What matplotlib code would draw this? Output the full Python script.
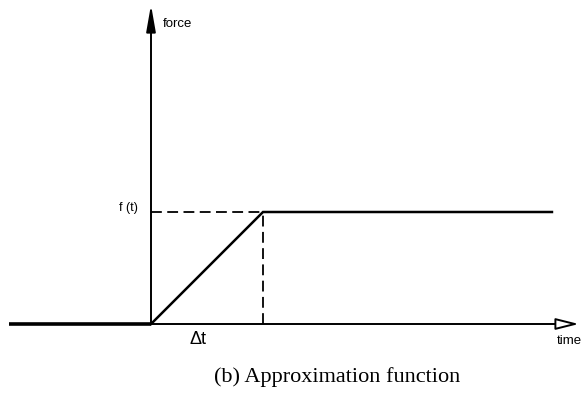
import matplotlib
matplotlib.use("Agg")
import matplotlib.pyplot as plt

# ステップ入力の近似関数（ランプ → 一定）
t_base = [-1.27, 0.0]        # t < 0 の区間
f_base = [0.0, 0.0]
t_ramp = [0.0, 1.0, 3.58]    # 0 → Δt でランプ，その後一定
f_ramp = [0.0, 1.0, 1.0]
DT = 1.0                     # Δt
F_LEVEL = 1.0                # f(t)

# 軸の長さ（矢印の先端）
T_AXIS_END = 3.82
F_AXIS_END = 2.85

fig = plt.figure(figsize=(5.81, 3.97), dpi=100)
ax = fig.add_axes([0, 0, 1, 1])
ax.set_xlim(-151 / 112, 430 / 112)
ax.set_ylim(-73 / 112, 324 / 112)
ax.axis('off')

# 軸
ax.annotate('', xy=(0, F_AXIS_END), xytext=(0, 0),
            arrowprops=dict(arrowstyle='-|>,head_length=1.6,head_width=0.28',
                            color='black', lw=1.4, shrinkA=0, shrinkB=0))
ax.annotate('', xy=(T_AXIS_END, 0), xytext=(0, 0),
            arrowprops=dict(arrowstyle='-|>,head_length=1.4,head_width=0.35',
                            facecolor='white', edgecolor='black', lw=1.4,
                            shrinkA=0, shrinkB=0))

# 関数
ax.plot(t_base, f_base, color='black', lw=2.6, solid_capstyle='butt')
ax.plot(t_ramp, f_ramp, color='black', lw=1.8, solid_joinstyle='miter')

# 補助線（破線）
ax.plot([0, DT], [F_LEVEL, F_LEVEL], color='black', lw=1.3, ls=(0, (6, 3)))
ax.plot([DT, DT], [0, F_LEVEL], color='black', lw=1.3, ls=(0, (6, 3)))

# ラベル
ax.text(0.107, 2.68, 'force', fontsize=9.5, family='Liberation Sans',
        ha='left', va='center')
ax.text(-0.116, 1.04, 'f (t)', fontsize=9, family='Liberation Sans',
        ha='right', va='center')
ax.text(0.42, -0.134, '\u0394t', fontsize=13, family='Liberation Sans',
        ha='center', va='center')
ax.text(3.625, -0.152, 'time', fontsize=9.5, family='Liberation Sans',
        ha='left', va='center')

fig.text(0.58, 0.05, '(b) Approximation function', fontsize=16,
         family='Liberation Serif', ha='center', va='center')

fig.savefig('out.png', dpi=100)
